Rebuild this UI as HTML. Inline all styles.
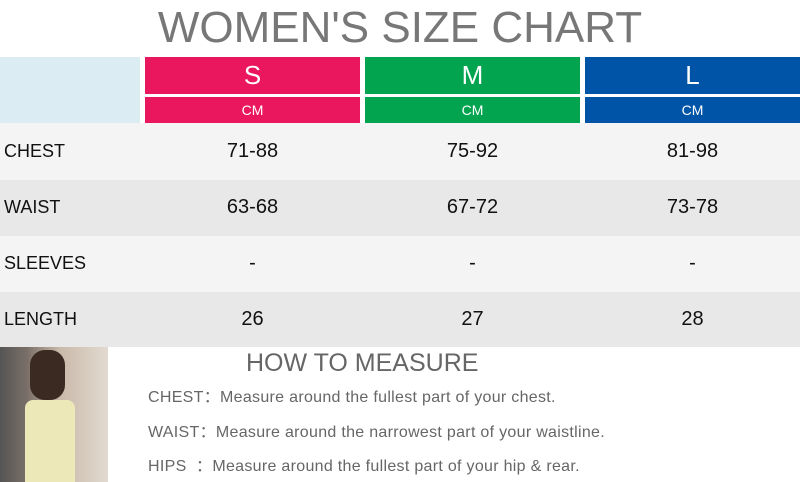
<!DOCTYPE html>
<html><head><style>
body{margin:0;width:800px;height:482px;background:#fff;position:relative;overflow:hidden;font-family:"Liberation Sans","Noto Sans CJK SC",sans-serif;}
div{position:absolute;box-sizing:border-box;}
.t{left:0;width:800px;top:3px;text-align:center;font-size:44px;color:#777;letter-spacing:0px;line-height:50px;}
.h{color:#fff;text-align:center;}
.big{font-size:26px;line-height:37px;top:57px;height:37px;}
.cm{font-size:14px;line-height:26px;top:97px;height:26px;}
.row{left:0;width:800px;}
.lab{left:4px;font-size:18px;color:#111;}
.v{font-size:20px;color:#111;text-align:center;width:215px;}
.m{font-size:16px;color:#666;left:148px;letter-spacing:0.3px;}
</style></head><body>
<div class="t">WOMEN'S SIZE CHART</div>
<div style="left:0;top:57px;width:140px;height:66px;background:#dbedf3"></div>
<div class="h big" style="left:145px;width:215px;background:#ea165e">S</div>
<div class="h cm" style="left:145px;width:215px;background:#ea165e">CM</div>
<div class="h big" style="left:365px;width:215px;background:#03a44f">M</div>
<div class="h cm" style="left:365px;width:215px;background:#03a44f">CM</div>
<div class="h big" style="left:585px;width:215px;background:#0054a7">L</div>
<div class="h cm" style="left:585px;width:215px;background:#0054a7">CM</div>

<div class="row" style="top:123px;height:57px;background:#f4f4f4"></div>
<div class="row" style="top:180px;height:56px;background:#e8e8e8"></div>
<div class="row" style="top:236px;height:56px;background:#f4f4f4"></div>
<div class="row" style="top:292px;height:55px;background:#e8e8e8"></div>

<div class="lab" style="top:141px">CHEST</div>
<div class="lab" style="top:197px">WAIST</div>
<div class="lab" style="top:253px">SLEEVES</div>
<div class="lab" style="top:309px">LENGTH</div>

<div class="v" style="left:145px;top:140px">71-88</div>
<div class="v" style="left:365px;top:140px">75-92</div>
<div class="v" style="left:585px;top:140px">81-98</div>
<div class="v" style="left:145px;top:196px">63-68</div>
<div class="v" style="left:365px;top:196px">67-72</div>
<div class="v" style="left:585px;top:196px">73-78</div>
<div class="v" style="left:145px;top:252px">-</div>
<div class="v" style="left:365px;top:252px">-</div>
<div class="v" style="left:585px;top:252px">-</div>
<div class="v" style="left:145px;top:308px">26</div>
<div class="v" style="left:365px;top:308px">27</div>
<div class="v" style="left:585px;top:308px">28</div>

<div style="left:0;top:347px;width:108px;height:135px;background:linear-gradient(90deg,#555 0,#7a6f68 25%,#c9b9a9 55%,#e2dad0 100%)"></div>
<div style="left:25px;top:400px;width:50px;height:82px;background:#ece8b8;border-radius:8px 8px 0 0"></div>
<div style="left:30px;top:350px;width:35px;height:50px;background:#3a2a22;border-radius:15px"></div>

<div style="left:246px;top:347px;font-size:25px;color:#666;line-height:32px">HOW TO MEASURE</div>
<div class="m" style="top:383px">CHEST：Measure around the fullest part of your chest.</div>
<div class="m" style="top:418px">WAIST：Measure around the narrowest part of your waistline.</div>
<div class="m" style="top:452px">HIPS &nbsp;：Measure around the fullest part of your hip &amp; rear.</div>
</body></html>
